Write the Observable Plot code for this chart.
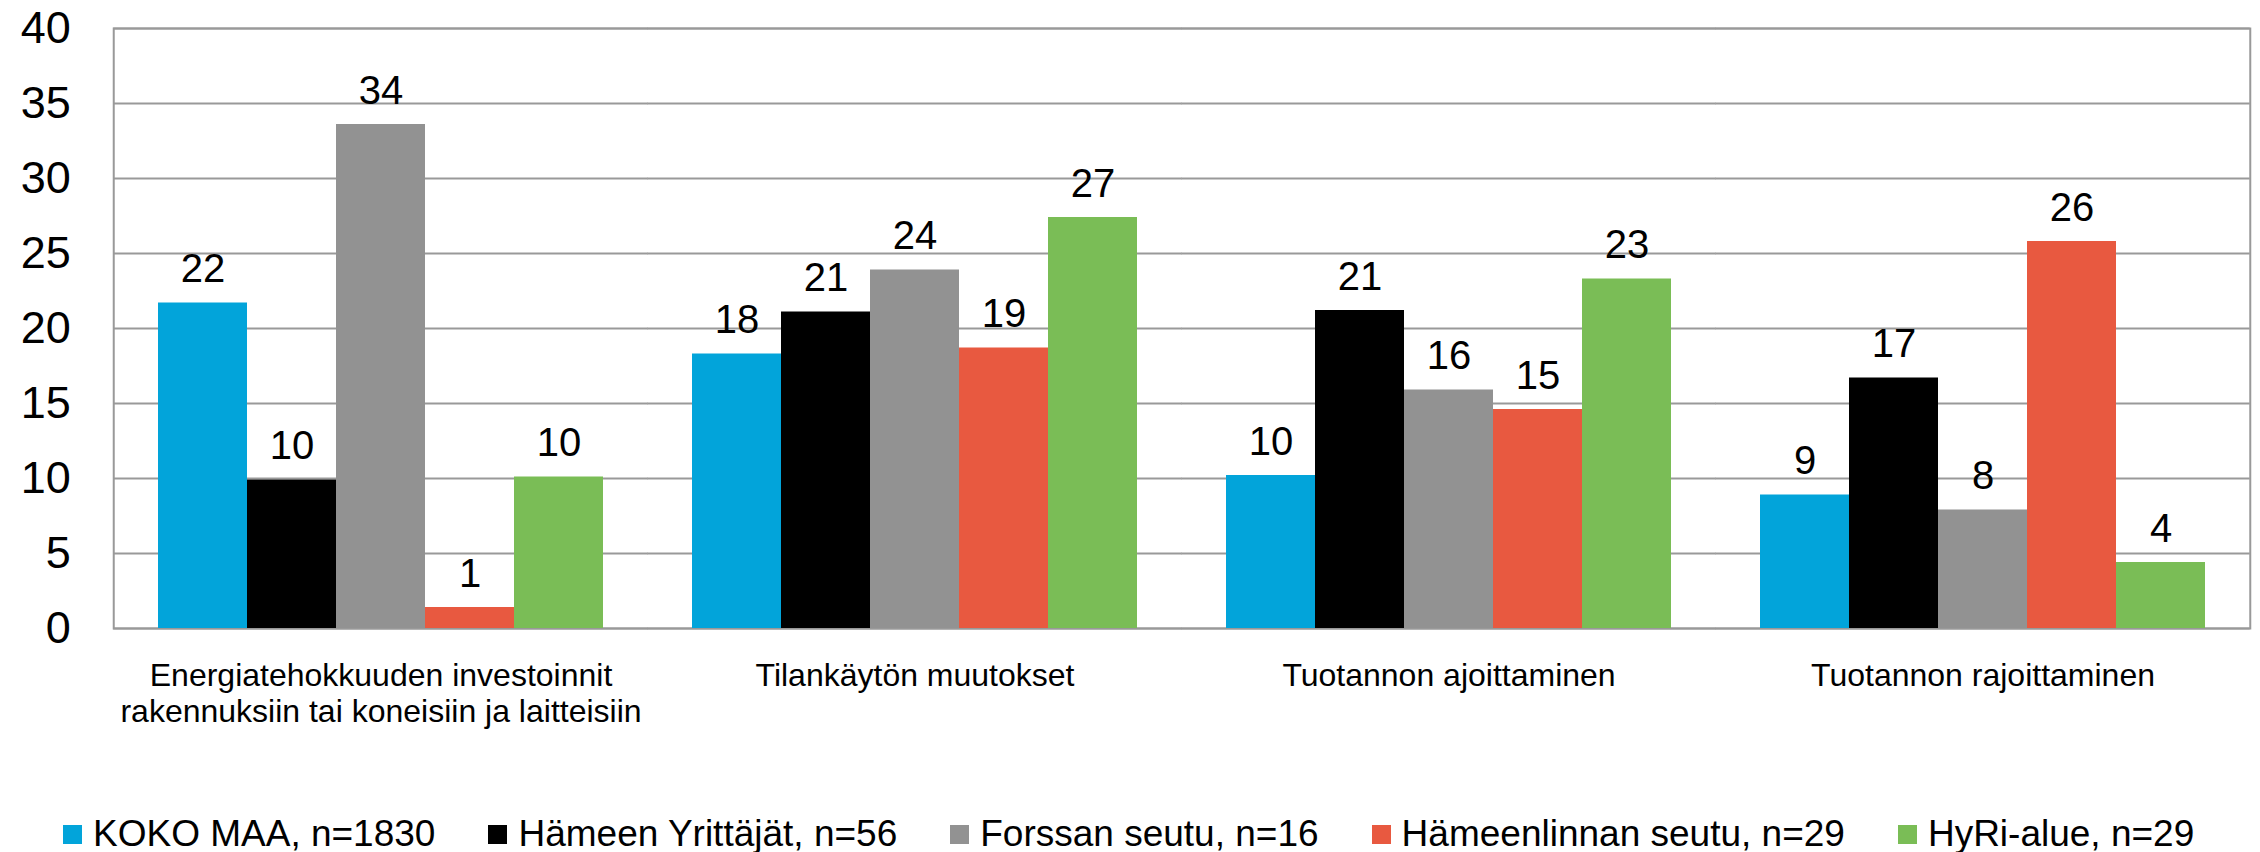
<!DOCTYPE html>
<html>
<head>
<meta charset="utf-8">
<script src="https://cdn.jsdelivr.net/npm/d3@7"></script>
<script src="https://cdn.jsdelivr.net/npm/@observablehq/plot@0.6"></script>
<style>
  html, body { margin: 0; padding: 0; background: #ffffff; }
  body { font-family: "Liberation Sans", Arial, sans-serif; color: #000; width: 2260px; }
  #legend { display: flex; align-items: center; height: 36px; margin-top: 36px; padding-left: 63px; }
  .item { display: flex; align-items: center; margin-right: 53px; }
  .sw { width: 19px; height: 19px; margin-right: 11px; flex: none; }
  .lt { font-size: 37px; line-height: 36px; white-space: nowrap; }
</style>
</head>
<body>
<div id="chart"></div>
<div id="legend"></div>
<script>
// Categories (x groups)
const categories = [
  "Energiatehokkuuden investoinnit\nrakennuksiin tai koneisiin ja laitteisiin",
  "Tilankäytön muutokset",
  "Tuotannon ajoittaminen",
  "Tuotannon rajoittaminen"
];
// Series
const series = [
  "KOKO MAA, n=1830",
  "Hämeen Yrittäjät, n=56",
  "Forssan seutu, n=16",
  "Hämeenlinnan seutu, n=29",
  "HyRi-alue, n=29"
];
const colors = ["#02a4da", "#000000", "#929292", "#e85940", "#7abd56"];

// Values per series (in category order)
const kokoMaa         = [21.7, 18.3, 10.2, 8.9];
const hameenYrittajat = [9.9, 21.1, 21.2, 16.7];
const forssanSeutu    = [33.6, 23.9, 15.9, 7.9];
const hameenlinnan    = [1.4, 18.7, 14.6, 25.8];
const hyriAlue        = [10.1, 27.4, 23.3, 4.4];

const yTicks = [0, 5, 10, 15, 20, 25, 30, 35, 40];

const valuesBySeries = [kokoMaa, hameenYrittajat, forssanSeutu, hameenlinnan, hyriAlue];
const data = series.flatMap((s, i) =>
  categories.map((c, j) => ({category: c, series: s, value: valuesBySeries[i][j]}))
);

const gridColor = "#999999";
const padInner = 0.1675;
const padOuter = padInner / 2;
const plotWidth = 2260 - 112 - 10;
const gapHalf = (plotWidth / categories.length) * padInner / 2;

const chart = Plot.plot({
  width: 2260,
  height: 780,
  marginLeft: 112,
  marginRight: 10,
  marginTop: 28,
  marginBottom: 152,
  style: {fontFamily: "'Liberation Sans', Arial, sans-serif", color: "#000", background: "#fff", overflow: "visible"},
  fx: {domain: categories, paddingInner: padInner, paddingOuter: padOuter, label: null},
  x: {domain: series, padding: 0, axis: null},
  y: {domain: [0, 40], label: null},
  color: {domain: series, range: colors},
  marks: [
    Plot.ruleY(yTicks, {stroke: gridColor, strokeWidth: 2, insetLeft: -gapHalf, insetRight: -gapHalf}),
    Plot.frame({facet: "super", stroke: gridColor, strokeWidth: 2, insetLeft: -gapHalf, insetRight: -gapHalf}),
    Plot.barY(data, {fx: "category", x: "series", y: "value", fill: "series"}),
    Plot.text(data, {
      fx: "category", x: "series", y: "value",
      text: d => String(Math.round(d.value)),
      lineAnchor: "bottom", dy: -21, fontSize: 40, fill: "#000"
    }),
    Plot.axisY(yTicks, {tickSize: 0, tickPadding: 43 + gapHalf, fontSize: 45, label: null}),
    Plot.axisFx({anchor: "bottom", tickSize: 0, tickPadding: 32, fontSize: 32, lineHeight: 1.13, label: null})
  ]
});
document.getElementById("chart").appendChild(chart);

const legend = document.getElementById("legend");
series.forEach((s, i) => {
  const item = document.createElement("div");
  item.className = "item";
  const sw = document.createElement("span");
  sw.className = "sw";
  sw.style.background = colors[i];
  const t = document.createElement("span");
  t.className = "lt";
  t.textContent = s;
  item.appendChild(sw);
  item.appendChild(t);
  legend.appendChild(item);
});
</script>
</body>
</html>
